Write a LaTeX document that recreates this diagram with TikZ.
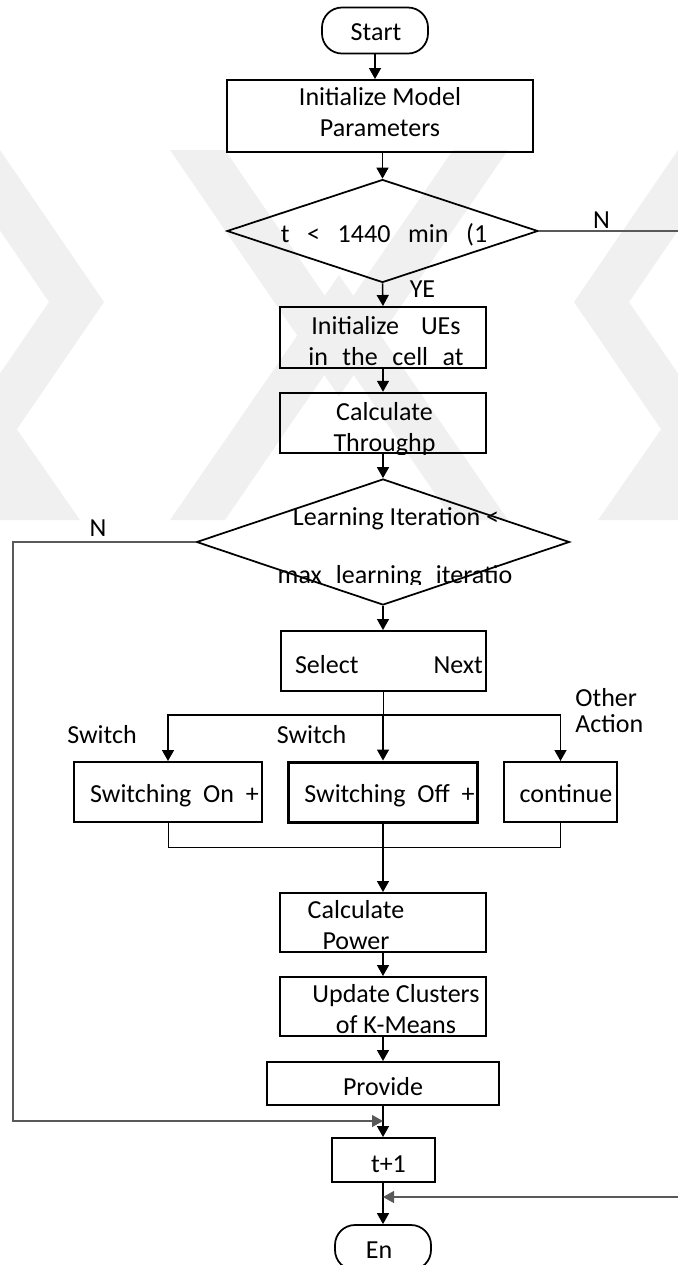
\documentclass[tikz,border=0pt]{standalone}
\usepackage{fontspec}
\setmainfont{Carlito}
\usetikzlibrary{arrows.meta,shapes.geometric}

\begin{document}
\begin{tikzpicture}[
  font=\fontsize{14.8}{17.6}\selectfont,
  box/.style={draw, line width=0.04cm, inner sep=0},
  term/.style={draw, line width=0.035cm, rounded corners=0.4cm, inner sep=0},
  decision/.style={draw, diamond, line width=0.035cm, inner sep=0},
  txt/.style={inner sep=0, anchor=base},
  arr/.style={line width=0.03cm, -{Triangle[width=0.24cm,length=0.22cm]}},
  link/.style={line width=0.02cm},
  back/.style={draw=black!65, line width=0.025cm, -{Triangle[width=0.24cm,length=0.22cm]}},
  stripe/.style={fill=black!6, draw=none}
]
\useasboundingbox (0,0) rectangle (13.56,-25.30);

% faint stripes in the background
\begin{scope}
  \clip (0,-3.0) rectangle (13.56,-10.4);
  \fill[stripe] (0,-3.0) -- (2.08,-6.04) -- (0,-9.08) -- (0,-7.47) -- (0.98,-6.04) -- (0,-4.61) -- cycle;
  \fill[stripe] (13.56,-3.0) -- (11.48,-6.04) -- (13.56,-9.08) -- (13.56,-7.47) -- (12.58,-6.04) -- (13.56,-4.61) -- cycle;
  \fill[stripe] (3.4,-3.0) -- (6.78,-7.93) -- (10.16,-3.0) -- (9.06,-3.0) -- (6.78,-6.33) -- (4.5,-3.0) -- cycle;
  \fill[stripe] (3.4,-10.4) -- (6.78,-5.5) -- (10.16,-10.4) -- (9.06,-10.4) -- (6.78,-7.07) -- (4.5,-10.4) -- cycle;
  \fill[stripe] (0,-10.4) -- (1.6,-10.4) -- (0,-8.1) -- cycle;
  \fill[stripe] (13.56,-10.4) -- (11.96,-10.4) -- (13.56,-8.1) -- cycle;
\end{scope}

% boxes
\node[term, minimum width=2.12cm, minimum height=0.92cm] (start) at (7.50,-0.61) {};
\node[box, minimum width=6.12cm, minimum height=1.44cm] (init) at (7.60,-2.32) {};
\node[decision, minimum width=6.22cm, minimum height=2.06cm] (dec1) at (7.65,-4.62) {};
\node[box, minimum width=4.12cm, minimum height=1.22cm] (ues) at (7.66,-6.75) {};
\node[box, line width=0.05cm, minimum width=4.12cm, minimum height=1.20cm] (thr) at (7.66,-8.46) {};
\node[decision, minimum width=7.46cm, minimum height=2.52cm] (dec2) at (7.66,-10.84) {};
\node[box, minimum width=4.10cm, minimum height=1.20cm] (sel) at (7.66,-13.22) {};
\node[box, minimum width=3.76cm, minimum height=1.20cm] (on) at (3.36,-15.84) {};
\node[box, line width=0.06cm, minimum width=3.78cm, minimum height=1.20cm] (off) at (7.66,-15.84) {};
\node[box, minimum width=2.26cm, minimum height=1.20cm] (cont) at (11.21,-15.84) {};
\node[box, minimum width=4.12cm, minimum height=1.18cm] (power) at (7.66,-18.45) {};
\node[box, minimum width=4.12cm, minimum height=1.18cm] (update) at (7.66,-20.13) {};
\node[box, minimum width=4.64cm, minimum height=0.86cm] (provide) at (7.66,-21.67) {};
\node[box, minimum width=2.06cm, minimum height=0.88cm] (tnext) at (7.66,-23.20) {};
\node[term, minimum width=1.92cm, minimum height=0.90cm] (end) at (7.66,-24.95) {};

% texts
\node[txt] (startT) at (7.52,-0.80) {Start};
\node[align=center, inner sep=0] (initT) at (7.60,-2.25) {Initialize Model\\Parameters};
\node[txt] (dec1T) at (7.68,-4.84) {t~~~<~~~1440~~~min~~~(1};
\node[txt] (yesT) at (8.45,-5.94) {YE};
\node[txt] (noT1) at (12.03,-4.56) {N};
\node[align=center, inner sep=0] (uesT) at (7.72,-6.83)
  {Initialize\hspace{0.44cm}UEs\\in\hspace{0.29cm}the\hspace{0.29cm}cell\hspace{0.29cm}at};
\begin{scope}
  \clip (thr.north west) rectangle (thr.south east);
  \node[align=center, inner sep=0] (thrT) at (7.69,-8.585) {Calculate\\Throughp};
\end{scope}
\node[txt] (dec2T1) at (7.92,-10.50) {Learning Iteration <};
\begin{scope}
  \clip (3,-10.9) rectangle (11,-11.68);
  \node[txt] (dec2T2) at (7.90,-11.66) {max\hspace{0.28cm}learning\hspace{0.28cm}iteratio};
\end{scope}
\node[txt] (noT2) at (1.96,-10.72) {N};
\node[txt] (selT) at (7.78,-13.46) {Select\hspace{1.5cm}Next};
\node[txt] (swT1) at (2.04,-14.86) {Switch};
\node[txt] (swT2) at (6.23,-14.86) {Switch};
\node[align=left, inner sep=0, anchor=west, font=\fontsize{14.8}{15.3}\selectfont] (otherT) at (11.50,-14.21) {Other\\Action};
\node[txt] (onT) at (3.49,-16.04) {Switching~~On~~+};
\node[txt] (offT) at (7.79,-16.04) {Switching~~Off~~+};
\node[txt] (contT) at (11.32,-16.04) {continue};
\node[align=center, inner sep=0] (powerT) at (7.12,-18.50) {Calculate\\Power};
\node[align=center, inner sep=0] (updateT) at (7.92,-20.18) {Update Clusters\\of K-Means};
\node[txt] (provideT) at (7.66,-21.90) {Provide};
\node[txt] (tnextT) at (7.77,-23.44) {t+1};
\node[txt] (endT) at (7.58,-25.16) {En};

% branch points
\coordinate (fork) at (7.66,-14.30);
\coordinate (join) at (7.66,-16.94);
\coordinate (inL) at (7.66,-22.42);
\coordinate (inR) at (7.66,-23.94);
\coordinate (cL1) at (0.26,-10.84);
\coordinate (cL2) at (0.26,-22.42);
\coordinate (cR1) at (13.80,-4.62);
\coordinate (cR2) at (13.80,-23.94);

% main flow
\draw[arr] (start) -- (start |- init.north);
\draw[arr] (dec1 |- init.south) -- (dec1.north);
\draw[arr] (dec1.south) -- (ues.north);
\draw[arr] (ues) -- (thr);
\draw[arr] (thr) -- (dec2);
\draw[arr] (dec2) -- (sel);
\draw[link] (sel) -- (fork);
\draw[arr] (fork) -| (on.north);
\draw[arr] (fork) -- (off.north);
\draw[arr] (fork) -| (cont.north);
\draw[link] (on) |- (join) -| (cont);
\draw[arr] (off) -- (power);
\draw[arr] (power) -- (update);
\draw[arr] (update) -- (provide);
\draw[arr] (provide) -- (tnext);
\draw[arr] (tnext) -- (end);

% loops back
\draw[back] (dec2.west) -- (cL1) -- (cL2) -- (inL);
\draw[back] (dec1.east) -- (cR1) -- (cR2) -- (inR);
\end{tikzpicture}
\end{document}
